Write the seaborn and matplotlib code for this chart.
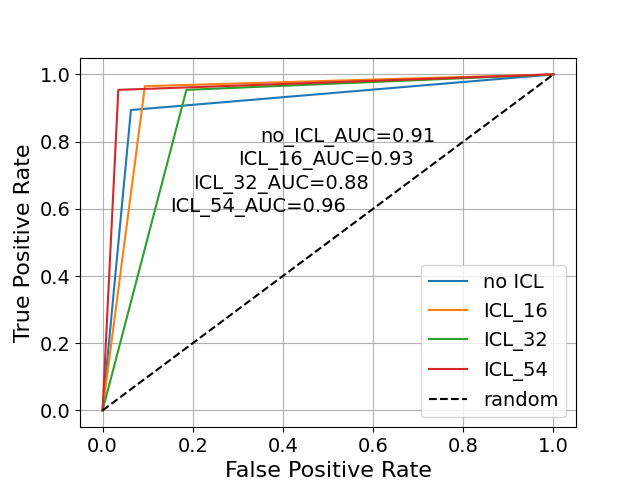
import matplotlib
matplotlib.use("Agg")
import matplotlib.pyplot as plt
import seaborn as sns
import numpy as np

# ROC points (0,0) -> knee -> (1,1)
names = ["no ICL", "ICL_16", "ICL_32", "ICL_54"]
fpr = [[0.0, 0.063, 1.0],
       [0.0, 0.094, 1.0],
       [0.0, 0.186, 1.0],
       [0.0, 0.035, 1.0]]
tpr = [[0.0, 0.894, 1.0],
       [0.0, 0.965, 1.0],
       [0.0, 0.954, 1.0],
       [0.0, 0.954, 1.0]]
auc_labels = ["no_ICL_AUC=0.91", "ICL_16_AUC=0.93", "ICL_32_AUC=0.88", "ICL_54_AUC=0.96"]
text_x = [0.35, 0.3, 0.2, 0.15]
text_y = [0.8, 0.73, 0.66, 0.59]
random_x = [0.0, 1.0]
random_y = [0.0, 1.0]

colors = sns.color_palette("tab10", 4)

fig, ax = plt.subplots(figsize=(6.4, 4.8), dpi=100)

for name, x, y, c in zip(names, fpr, tpr, colors):
    sns.lineplot(x=x, y=y, label=name, color=c, sort=False, ax=ax, linewidth=1.5)

sns.lineplot(x=random_x, y=random_y, label="random", color="black", ax=ax,
             linestyle="--", linewidth=1.5)

for t, tx, ty in zip(auc_labels, text_x, text_y):
    ax.text(tx, ty, t, fontsize=14)

ax.set_xlabel("False Positive Rate", fontsize=16)
ax.set_ylabel("True Positive Rate", fontsize=16)
ax.tick_params(labelsize=14)
ax.grid(True)
ax.legend(loc="lower right", fontsize=14)

plt.savefig("out.png", dpi=100)
